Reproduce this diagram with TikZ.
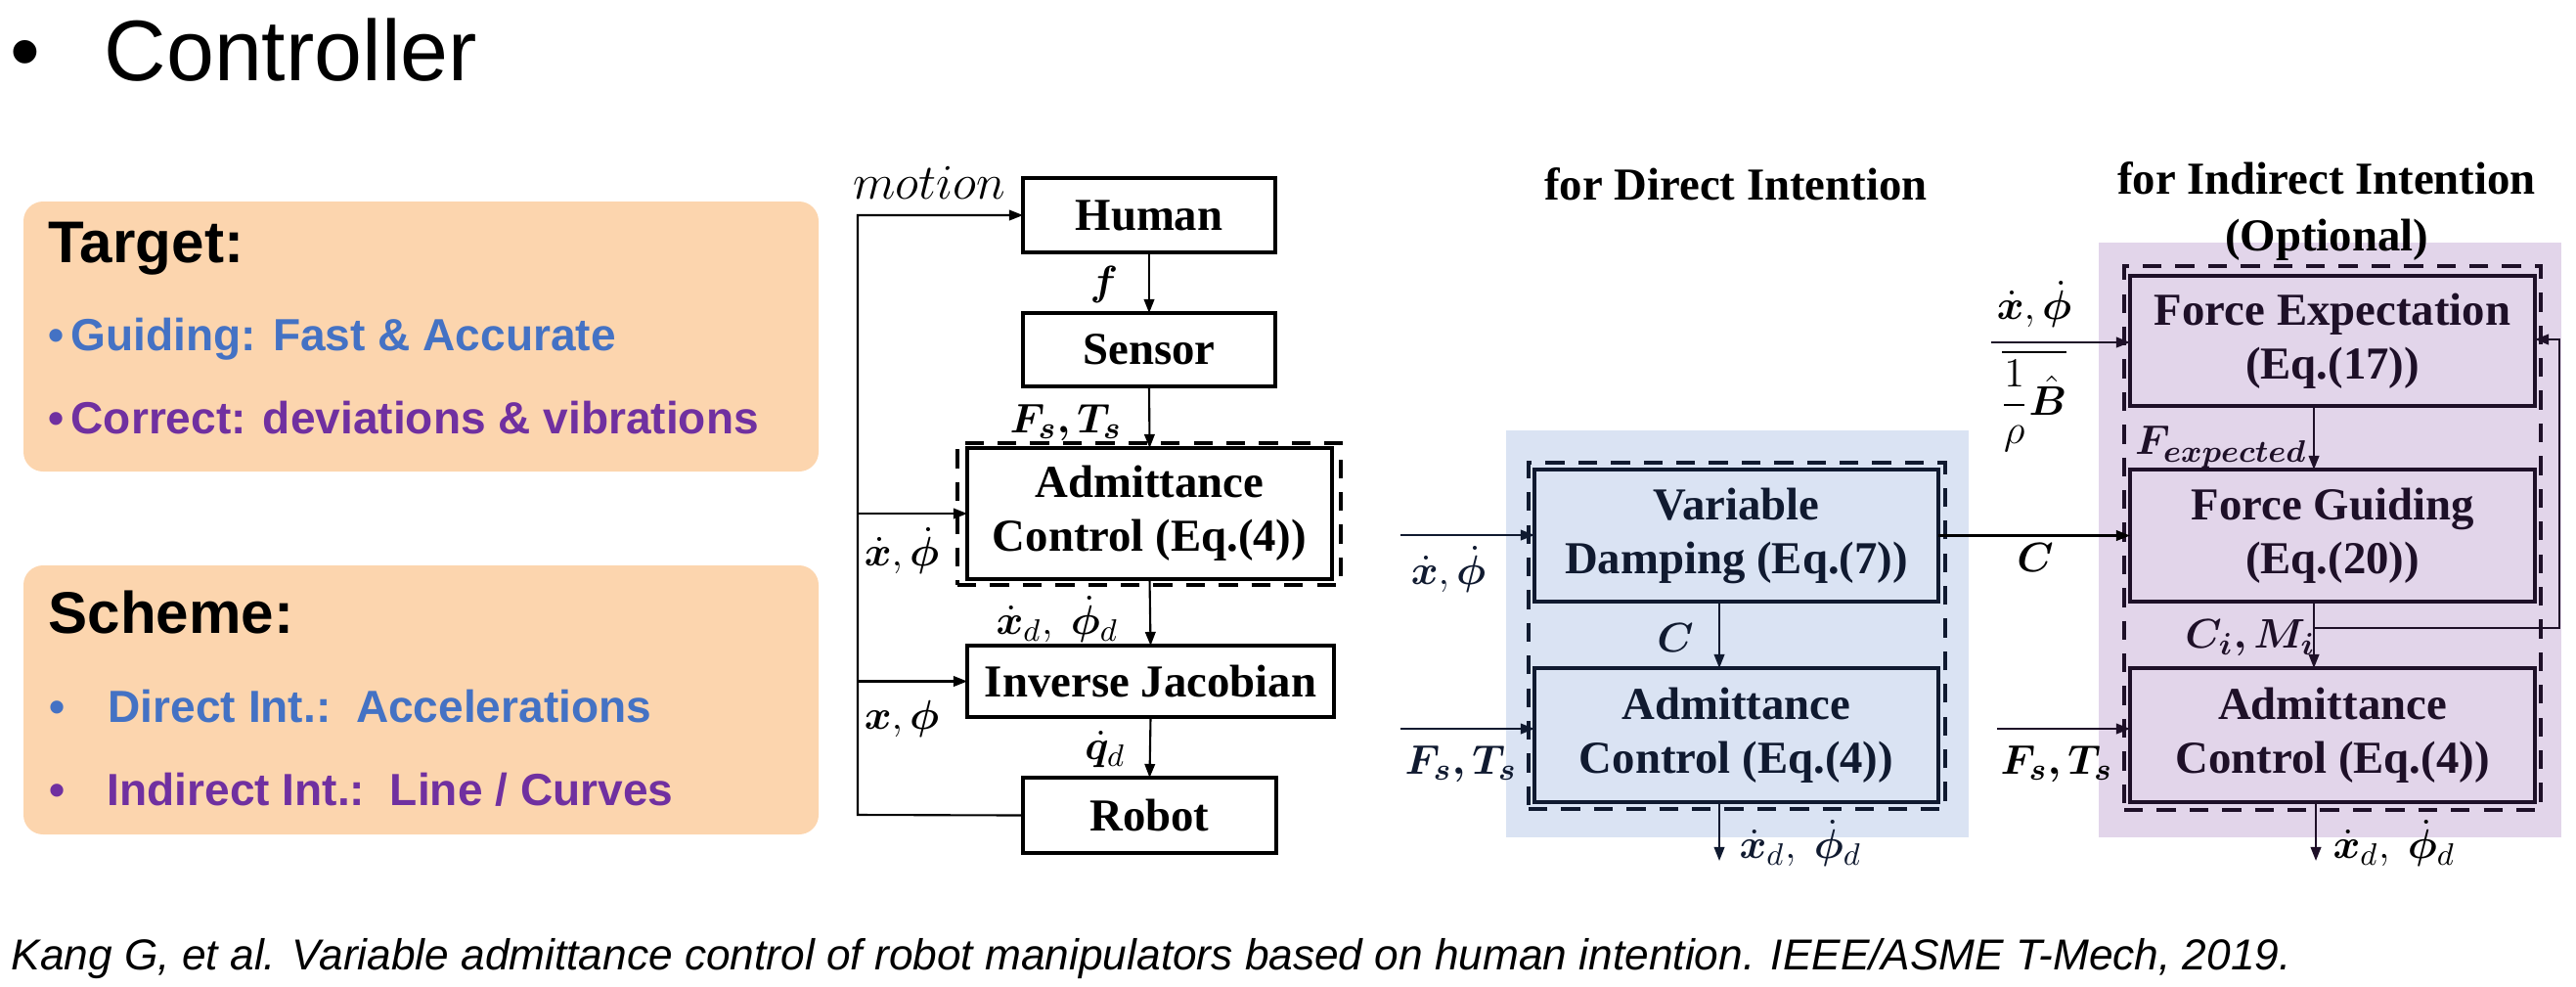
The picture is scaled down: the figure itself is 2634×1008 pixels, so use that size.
\documentclass[tikz,border=0pt]{standalone}
\usepackage{amsmath}
\usepackage{bm}
\usepackage{fontspec}
\setmainfont{Liberation Serif}
\newfontfamily\arialf{Liberation Sans}
\newfontfamily\tnr{Liberation Serif}
\usetikzlibrary{arrows.meta}
\definecolor{peach}{HTML}{FCD5AE}
\definecolor{tblue}{HTML}{4472C4}
\definecolor{tpurple}{HTML}{7030A0}
\definecolor{bgblue}{HTML}{DAE3F3}
\definecolor{bgpurple}{HTML}{E2D5EA}
\definecolor{inkB}{HTML}{101A30}
\definecolor{inkP}{HTML}{1E1028}
\begin{document}
\begin{tikzpicture}[x=0.01cm,y=-0.01cm,
  sz/.style 2 args={minimum width=#1*0.01cm, minimum height=#2*0.01cm},
  box/.style={draw, line width=1.2pt, inner sep=0pt, outer sep=0pt, align=center,
    font=\tnr\bfseries\fontsize{13.3}{15.6}\selectfont},
  dbox/.style={draw, line width=1.2pt, dash pattern=on 5.5pt off 4pt, inner sep=0pt, outer sep=0pt},
  conn/.style={line width=0.6pt, -{Triangle[length=4pt,width=3pt]}},
  plain/.style={line width=0.6pt},
  lab/.style={inner sep=0pt, font=\fontsize{12.8}{15}\selectfont},
  bg/.style={inner sep=0pt, outer sep=0pt, draw=none},
  slidetxt/.style={anchor=base west, inner sep=0pt},
  head/.style={inner sep=0pt, align=center, font=\tnr\bfseries\fontsize{13.3}{16.5}\selectfont}
]
\useasboundingbox (0,0) rectangle (2634,1008);

% ---------------- left side: title and text boxes ----------------
\node[slidetxt, font=\arialf\fontsize{25}{30}\selectfont] (tbul) at (10,82) {•};
\node[slidetxt, font=\arialf\fontsize{25}{30}\selectfont] (title) at (106,82) {Controller};

\node[bg, fill=peach, rounded corners=0.2cm, sz={813}{276}] (tgtbox) at (430.5,344) {};
\node[slidetxt, font=\arialf\bfseries\fontsize{17.1}{20}\selectfont] (tgt) at (49,268) {Target:};
\node[slidetxt, text=tblue, font=\arialf\bfseries\fontsize{13.1}{16}\selectfont] (b1) at (49,358) {•};
\node[slidetxt, text=tblue, font=\arialf\bfseries\fontsize{13.1}{16}\selectfont] (t1) at (72,358) {Guiding: Fast \& Accurate};
\node[slidetxt, text=tpurple, font=\arialf\bfseries\fontsize{13.1}{16}\selectfont] (b2) at (49,443) {•};
\node[slidetxt, text=tpurple, font=\arialf\bfseries\fontsize{13.1}{16}\selectfont] (t2) at (72,443) {Correct: deviations \& vibrations};

\node[bg, fill=peach, rounded corners=0.2cm, sz={813}{275}] (schbox) at (430.5,715.5) {};
\node[slidetxt, font=\arialf\bfseries\fontsize{17.1}{20}\selectfont] (sch) at (49,647) {Scheme:};
\node[slidetxt, text=tblue, font=\arialf\bfseries\fontsize{13.1}{16}\selectfont] (b3) at (50,738) {•};
\node[slidetxt, text=tblue, font=\arialf\bfseries\fontsize{13.1}{16}\selectfont] (t3) at (110,738) {Direct Int.:\ \ Accelerations};
\node[slidetxt, text=tpurple, font=\arialf\bfseries\fontsize{13.1}{16}\selectfont] (b4) at (50,823) {•};
\node[slidetxt, text=tpurple, font=\arialf\bfseries\fontsize{13.1}{16}\selectfont] (t4) at (109,823) {Indirect Int.:\ \ Line / Curves};

\node[slidetxt, font=\arialf\itshape\fontsize{12.58}{15}\selectfont] (cite) at (11,991)
  {Kang G, et al. Variable admittance control of robot manipulators based on human intention. IEEE/ASME T-Mech, 2019.};

% ---------------- diagram 1 ----------------
\node[box, sz={258}{76}] (human) at (1175,220) {Human};
\node[box, sz={258}{75}] (sensor) at (1175,357.5) {Sensor};
\node[dbox, sz={392}{145}] (dash1) at (1175,525.5) {};
\node[box, sz={373}{134}] (adm1) at (1175.5,525) {Admittance\\Control (Eq.(4))};
\node[box, sz={375}{73}] (ij) at (1176.5,696.5) {Inverse Jacobian};
\node[box, sz={259}{77}] (robot) at (1175.5,833.5) {Robot};

\coordinate (fbT) at (877,220);
\coordinate (fbB) at (877,833);
\draw[conn] (robot.west) -- (fbB) -- (fbT) -- (human.west);
\draw[conn] (adm1.west -| fbT) -- (adm1.west);
\draw[conn] (ij.west -| fbT) -- (ij.west);
\draw[conn] (human.south) -- (sensor.north);
\draw[conn] (sensor.south) -- (adm1.north);
\draw[conn] (adm1.south) -- (ij.north);
\draw[conn] (ij.south) -- (robot.north);

\node[inner sep=0pt, anchor=base, font=\fontsize{13.6}{16}\selectfont] (motion) at (950,203) {$motion$};
\node[lab] (lf) at (1129,291) {$\bm{f}$};
\node[lab] (lfs1) at (1090,432) {$\bm{F_s, T_s}$};
\node[lab] (lxd1) at (922,563) {$\dot{\bm x}, \dot{\bm\phi}$};
\node[lab] (lxdd1) at (1081,633) {$\dot{\bm x}_{d},\ \dot{\bm\phi}_{d}$};
\node[lab] (lx1) at (922,735) {$\bm{x}, \bm{\phi}$};
\node[lab] (lqd) at (1130,766) {$\dot{\bm q}_{d}$};

% ---------------- diagram 2 (direct intention) ----------------
\node[head] (hd1) at (1775,188) {for Direct Intention};
\node[bg, fill=bgblue, sz={473}{416}] (bgB) at (1776.5,648) {};
\node[dbox, draw=inkB, sz={426}{354}] (dash2) at (1776,650) {};
\node[box, draw=inkB, text=inkB, sz={413}{135}] (vd) at (1775.5,547.5) {Variable\\Damping (Eq.(7))};
\node[box, draw=inkB, text=inkB, sz={413}{137}] (adm2) at (1775.5,751.5) {Admittance\\Control (Eq.(4))};

\coordinate (in1) at (1432,547);
\coordinate (in2) at (1432,745);
\coordinate (vx2) at (1758,880);
\draw[conn, draw=inkB] (in1) -- (in1 -| vd.west);
\draw[conn, draw=inkB] (in2) -- (in2 -| adm2.west);
\draw[conn, draw=inkB] (vd.south -| vx2) -- (adm2.north -| vx2);
\draw[conn, draw=inkB] (adm2.south -| vx2) -- (vx2);

\node[lab, text=inkB] (lxd2) at (1481,582) {$\dot{\bm x}, \dot{\bm\phi}$};
\node[lab, text=inkB] (lc1) at (1713,652) {$\bm{C}$};
\node[lab, text=inkB] (lfs2) at (1494,781) {$\bm{F_s, T_s}$};
\node[lab, text=inkB] (lxdd2) at (1841,862) {$\dot{\bm x}_{d},\ \dot{\bm\phi}_{d}$};

% ---------------- diagram 3 (indirect intention) ----------------
\node[bg, fill=bgpurple, sz={473}{608}] (bgP) at (2382.5,552) {};
\node[head] (hd2) at (2379,216) {for Indirect Intention\\(Optional)};
\node[dbox, draw=inkP, sz={426}{556}] (dash3) at (2385,550) {};
\node[box, draw=inkP, text=inkP, sz={414}{133}] (fe) at (2385,348.5) {Force Expectation\\(Eq.(17))};
\node[box, draw=inkP, text=inkP, sz={414}{135}] (fg) at (2385,547.5) {Force Guiding\\(Eq.(20))};
\node[box, draw=inkP, text=inkP, sz={414}{137}] (adm3) at (2385,751.5) {Admittance\\Control (Eq.(4))};

\coordinate (in3) at (2036,350);
\coordinate (in4) at (2042,745);
\coordinate (vx3) at (2366,0);
\coordinate (brP) at (2366,642);
\coordinate (fbR1) at (2617,642);
\coordinate (fbR2) at (2617,347);
\coordinate (out3) at (2368,880);
\draw[conn] (vd.east) -- (fg.west);
\draw[conn, draw=inkP] (in3) -- (in3 -| fe.west);
\draw[conn, draw=inkP] (in4) -- (in4 -| adm3.west);
\draw[conn, draw=inkP] (fe.south -| vx3) -- (fg.north -| vx3);
\draw[conn, draw=inkP] (fg.south -| vx3) -- (adm3.north -| vx3);
\draw[conn, draw=inkP] (brP) -- (fbR1) -- (fbR2) -- (fbR2 -| fe.east);
\draw[conn, draw=inkP] (adm3.south -| out3) -- (out3);

\node[lab] (lxd3) at (2080,311) {$\dot{\bm x}, \dot{\bm\phi}$};
\coordinate (barL) at (2047,360);
\coordinate (barR) at (2113,360);
\draw[plain] (barL) -- (barR);
\node[lab] (lfrac) at (2079,415) {$\dfrac{1}{\rho}\hat{\bm B}$};
\node[lab] (lc2) at (2081,570) {$\bm{C}$};
\node[lab, text=inkP] (lfexp) at (2271,457) {$\bm{F}_{\bm{expected}}$};
\node[lab, text=inkP] (lcm) at (2301,652) {$\bm{C_i, M_i}$};
\node[lab] (lfs3) at (2103,781) {$\bm{F_s, T_s}$};
\node[lab] (lxdd3) at (2448,862) {$\dot{\bm x}_{d},\ \dot{\bm\phi}_{d}$};
\end{tikzpicture}
\end{document}
